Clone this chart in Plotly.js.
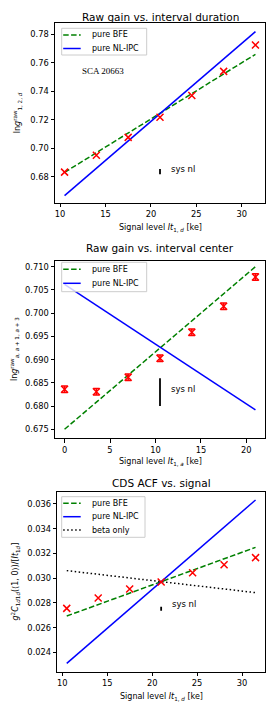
<!DOCTYPE html>
<html><head><meta charset="utf-8">
<script src="https://cdn.plot.ly/plotly-3.0.1.min.js"></script>
<style>html,body{margin:0;padding:0;background:#fff}</style>
</head><body><div id="plot" style="width:277px;height:712px"></div>
<script>
// ---- data ----
const sig1 = [10.5, 14, 17.5, 21, 24.5, 28, 31.5];
const meas1 = [0.6832, 0.6950, 0.7076, 0.7217, 0.7371, 0.7540, 0.7725];
const bfe1 = [0.6830, 0.6968, 0.7107, 0.7245, 0.7383, 0.7522, 0.7660];
const ipc1 = [0.6667, 0.6859, 0.7051, 0.7243, 0.7435, 0.7627, 0.7819];
const sys1 = {x: 21, y: 0.6835, half: 0.0018};

const sig2 = [0, 3.5, 7, 10.5, 14, 17.5, 21];
const meas2 = [0.6836, 0.6831, 0.6862, 0.6903, 0.6959, 0.7015, 0.7078];
const err2 = [0.0007, 0.0007, 0.0007, 0.0007, 0.0007, 0.0007, 0.0007];
const bfe2 = [0.6750, 0.6808, 0.6867, 0.6925, 0.6983, 0.7042, 0.7100];
const ipc2 = [0.7062, 0.7017, 0.6972, 0.6927, 0.6882, 0.6837, 0.6792];
const sys2 = {x: 10.5, y: 0.6830, half: 0.0030};

const sig3 = [10.5, 14, 17.5, 21, 24.5, 28, 31.5];
const meas3 = [0.02756, 0.02840, 0.02912, 0.02969, 0.03044, 0.03109, 0.03166];
const bfe3 = [0.02694, 0.02787, 0.02879, 0.02972, 0.03064, 0.03157, 0.03249];
const ipc3 = [0.02311, 0.02531, 0.02752, 0.02972, 0.03192, 0.03412, 0.03632];
const beta3 = [0.03061, 0.03031, 0.03002, 0.02972, 0.02942, 0.02913, 0.02883];
const sys3 = {x: 21, y: 0.02753, half: 0.00016};

const legendLabels = ['pure BFE', 'pure NL-IPC', 'beta only'];

// ---- helpers ----
const W = 277, H = 712;
const px = x => x / W, py = y => 1 - y / H;
const GREEN = '#008000', BLUE = '#0000ff', RED = '#ff0000';
const FONT = 'DejaVu Sans, sans-serif';

function meas(x, y, xa, ya, err) {
  const t = {x, y, xaxis: xa, yaxis: ya, mode: 'markers', type: 'scatter', showlegend: false,
    marker: {symbol: 'x-thin', size: 7, color: RED, line: {color: RED, width: 1.5}}};
  if (err) t.error_y = {type: 'data', array: err, visible: true, color: RED, thickness: 1.5, width: 3};
  return t;
}
function line(x, y, xa, ya, color, dash) {
  return {x, y, xaxis: xa, yaxis: ya, mode: 'lines', type: 'scatter', showlegend: false,
    line: {color, width: 1.5, dash}};
}
function sys(s, xa, ya) {
  return {x: [s.x], y: [s.y], xaxis: xa, yaxis: ya, mode: 'markers', type: 'scatter', showlegend: false,
    marker: {size: 1, color: 'rgba(0,0,0,0)'},
    error_y: {type: 'data', array: [s.half], visible: true, color: 'black', thickness: 1.8, width: 0}};
}

const DASH = '5.5px,2.4px', DOT = '1.5px,2.5px';

const traces = [
  line(sig1, bfe1, 'x', 'y', GREEN, DASH),
  line(sig1, ipc1, 'x', 'y', BLUE, 'solid'),
  meas(sig1, meas1, 'x', 'y'),
  sys(sys1, 'x', 'y'),
  line(sig2, bfe2, 'x2', 'y2', GREEN, DASH),
  line(sig2, ipc2, 'x2', 'y2', BLUE, 'solid'),
  meas(sig2, meas2, 'x2', 'y2', err2),
  sys(sys2, 'x2', 'y2'),
  line(sig3, bfe3, 'x3', 'y3', GREEN, DASH),
  line(sig3, ipc3, 'x3', 'y3', BLUE, 'solid'),
  line(sig3, beta3, 'x3', 'y3', 'black', DOT),
  meas(sig3, meas3, 'x3', 'y3'),
  sys(sys3, 'x3', 'y3'),
];

function ax(domain, range, dtick, tick0, fmt, anchor) {
  return {domain, range, dtick, tick0, tickformat: fmt, anchor,
    showline: true, mirror: true, linecolor: 'black', linewidth: 1,
    ticks: 'outside', ticklen: 3.5, tickwidth: 1, tickcolor: 'black',
    showgrid: false, zeroline: false, tickfont: {family: FONT, size: 8.3, color: '#000'}};
}

const layout = {
  width: W, height: H, margin: {l: 0, r: 0, t: 0, b: 0},
  paper_bgcolor: '#fff', plot_bgcolor: '#fff', showlegend: false,
  font: {family: FONT, color: '#000'},
  xaxis: ax([px(55), px(265)], [9.45, 32.55], 5, 10, 'd', 'y'),
  yaxis: ax([py(202.7), py(22.7)], [0.6617, 0.7882], 0.02, 0.68, '.2f', 'x'),
  xaxis2: ax([px(55), px(265)], [-1.05, 22.05], 5, 0, 'd', 'y2'),
  yaxis2: ax([py(438.3), py(260.7)], [0.67306, 0.71129], 0.005, 0.675, '.3f', 'x2'),
  xaxis3: ax([px(57.3), px(265)], [9.45, 32.55], 5, 10, 'd', 'y3'),
  yaxis3: ax([py(671.7), py(492.3)], [0.02244, 0.03694], 0.002, 0.024, '.3f', 'x3'),
  shapes: [], annotations: []
};

function ann(x, y, text, opts) {
  layout.annotations.push(Object.assign({xref: 'paper', yref: 'paper', x: px(x), y: py(y), text,
    showarrow: false, xanchor: 'center', yanchor: 'middle', font: {family: FONT, size: 8, color: '#000'}}, opts || {}));
}
function dataAnn(xa, ya, x, y, text, font) {
  layout.annotations.push({xref: xa, yref: ya, x, y, text, showarrow: false, xanchor: 'left', yanchor: 'middle',
    font: font || {family: FONT, size: 8.5, color: '#000'}});
}

// titles
const TF = {family: FONT, size: 10.5, color: '#000'};
ann(160, 17.3, 'Raw gain vs. interval duration', {font: TF});
ann(160, 248.3, 'Raw gain vs. interval center', {font: TF});
ann(161, 482.7, 'CDS ACF vs. signal', {font: TF});
// x labels
ann(160, 227.7, 'Signal level <i>It</i><sub>1, <i>d</i></sub> [ke]');
ann(160, 461.7, 'Signal level <i>It</i><sub>1, <i>a</i></sub> [ke]');
ann(161, 696.7, 'Signal level <i>It</i><sub>1, <i>d</i></sub> [ke]');
// y labels
ann(17.5, 112.7, 'ln<i>g</i><sup>raw</sup><sub>1, 2, <i>d</i></sub>', {textangle: -90});
ann(14.5, 349.5, 'ln<i>g</i><sup>raw</sup><sub><i>a</i>, <i>a</i> + 1, <i>a</i> + 3</sub>', {textangle: -90});
ann(14.5, 582, '<i>g</i><sup>2</sup><i>C</i><sub>1<i>d</i>1<i>d</i></sub>(⟨1, 0⟩)/[<i>It</i><sub>1<i>d</i></sub>]', {textangle: -90});

// in-plot texts
dataAnn('x', 'y', 12.2, 0.7544, 'SCA 20663', {family: 'Liberation Serif, serif', size: 9, color: '#000'});
dataAnn('x', 'y', 21.95, 0.6852, 'sys nl');
dataAnn('x2', 'y2', 11.5, 0.6836, 'sys nl');
dataAnn('x3', 'y3', 21.95, 0.02791, 'sys nl');

// legends (drawn manually to match matplotlib's compact spacing)
function legend(x0, y0, x1, y1, items) {
  layout.shapes.push({type: 'rect', xref: 'paper', yref: 'paper', x0: px(x0), x1: px(x1), y0: py(y0), y1: py(y1),
    fillcolor: 'rgba(255,255,255,0.8)', line: {color: '#cccccc', width: 1}, layer: 'above'});
  items.forEach(it => {
    layout.shapes.push({type: 'line', xref: 'paper', yref: 'paper', x0: px(x0 + 1.5), x1: px(x0 + 19), y0: py(it.y), y1: py(it.y),
      line: {color: it.color, width: 1.5, dash: it.dash}, layer: 'above'});
    ann(x0 + 28.5, it.y, it.label, {xanchor: 'left'});
  });
}
legend(61.7, 28.3, 146.7, 55, [
  {y: 34.9, color: GREEN, dash: DASH, label: legendLabels[0]},
  {y: 48.5, color: BLUE, dash: 'solid', label: legendLabels[1]}]);
legend(61.7, 262.3, 146.7, 291.7, [
  {y: 269.3, color: GREEN, dash: DASH, label: legendLabels[0]},
  {y: 283.3, color: BLUE, dash: 'solid', label: legendLabels[1]}]);
legend(61.7, 496.7, 145, 537.3, [
  {y: 503.3, color: GREEN, dash: DASH, label: legendLabels[0]},
  {y: 516.7, color: BLUE, dash: 'solid', label: legendLabels[1]},
  {y: 530, color: 'black', dash: DOT, label: legendLabels[2]}]);

Plotly.newPlot('plot', traces, layout, {displayModeBar: false, staticPlot: true});
</script></body></html>
